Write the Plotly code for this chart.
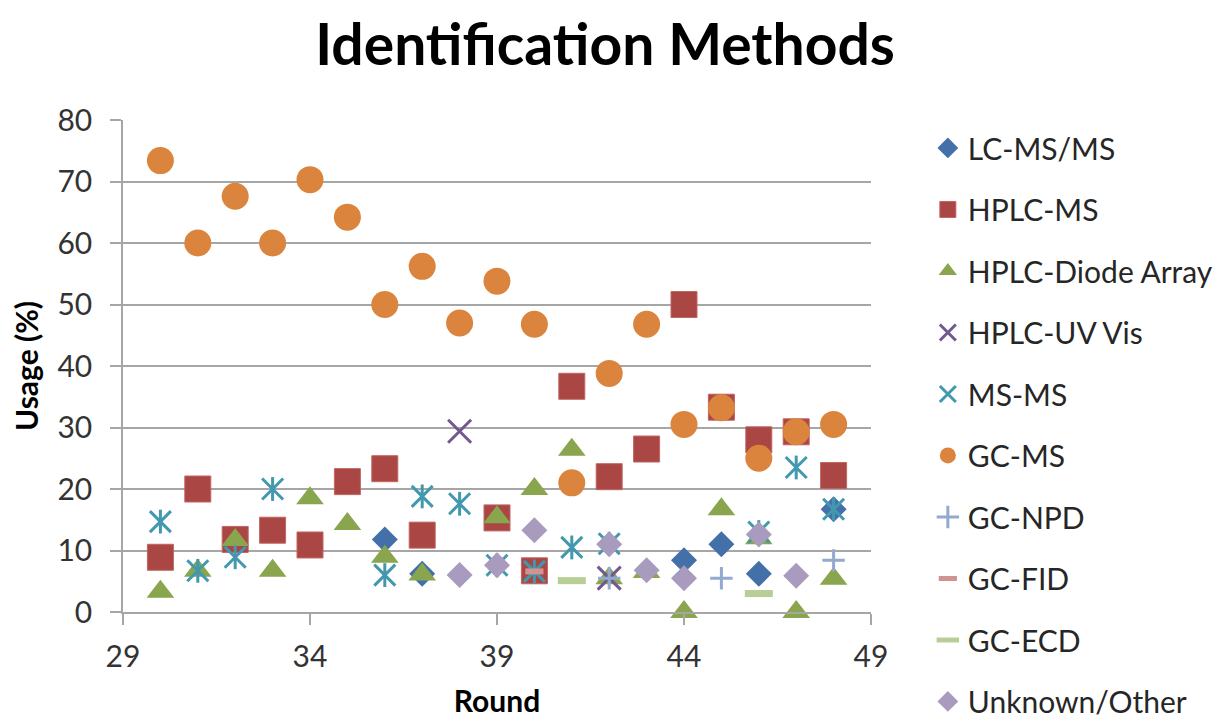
import plotly.graph_objects as go

# ---- data ----
lcmsms_x = [36, 37, 44, 45, 46, 48]
lcmsms_y = [11.8, 6.2, 8.4, 11.0, 6.2, 16.7]

hplcms_x = [30, 31, 32, 33, 34, 35, 36, 37, 39, 40, 41, 42, 43, 44, 45, 46, 47, 48]
hplcms_y = [8.9, 20.0, 11.8, 13.3, 10.9, 21.2, 23.3, 12.5, 15.3, 6.7, 36.7, 22.0, 26.5, 50.0, 33.3, 28.0, 29.3, 22.2]

hplcda_x = [30, 31, 32, 33, 34, 35, 36, 37, 39, 40, 41, 42, 43, 44, 45, 46, 47, 48]
hplcda_y = [3.3, 6.7, 11.7, 6.7, 18.5, 14.3, 9.0, 6.1, 15.4, 20.0, 26.4, 5.5, 6.5, 0.0, 16.7, 12.0, 0.0, 5.4]

hplcuv_x = [38, 42]
hplcuv_y = [29.4, 5.5]

msms_x = [30, 31, 32, 33, 36, 37, 38, 39, 40, 41, 42, 46, 47, 48]
msms_y = [14.7, 6.7, 8.9, 20.0, 6.0, 18.8, 17.6, 7.6, 6.6, 10.5, 11.1, 13.0, 23.5, 16.7]

gcms_x = [30, 31, 32, 33, 34, 35, 36, 37, 38, 39, 40, 41, 42, 43, 44, 45, 46, 47, 48]
gcms_y = [73.4, 60.0, 67.6, 60.0, 70.3, 64.2, 50.0, 56.2, 47.0, 53.8, 46.8, 21.0, 38.8, 46.8, 30.5, 33.2, 25.0, 29.3, 30.5]

gcnpd_x = [42, 45, 48]
gcnpd_y = [5.5, 5.5, 8.4]

gcfid_x = [40]
gcfid_y = [6.6]

gcecd_x = [41, 46]
gcecd_y = [5.1, 3.0]

unknown_x = [38, 39, 40, 42, 43, 44, 46, 47]
unknown_y = [6.0, 7.6, 13.3, 11.0, 6.8, 5.5, 12.6, 5.9]

FONT = "Lato"

fig = go.Figure()

def add(name, xs, ys, symbol, color, size, line_w=0, line_color=None, showlegend=True, group=None):
    fig.add_trace(go.Scatter(
        x=xs, y=ys, mode="markers", name=name,
        legendgroup=group or name, showlegend=showlegend,
        cliponaxis=False,
        marker=dict(symbol=symbol, color=color, size=size,
                    line=dict(width=line_w, color=line_color or color)),
    ))

add("LC-MS/MS", lcmsms_x, lcmsms_y, "diamond", "#4470AA", 20)
add("HPLC-MS", hplcms_x, hplcms_y, "square", "#AA4643", 26, 1, "#C06664")
add("HPLC-Diode Array", hplcda_x, hplcda_y, "triangle-up", "#89A54E", 24)
add("HPLC-UV Vis", hplcuv_x, hplcuv_y, "x-thin-open", "#71588F", 23, 3)
add("MS-MS", msms_x, msms_y, "x-thin-open", "#4198AF", 21, 3)
add("MS-MS", msms_x, msms_y, "line-ns-open", "#4198AF", 17, 3, showlegend=False, group="MS-MS")
add("GC-MS", gcms_x, gcms_y, "circle", "#DB843D", 27)
add("GC-NPD", gcnpd_x, gcnpd_y, "cross-thin-open", "#93A9CF", 16, 3)
add("GC-FID", gcfid_x, gcfid_y, "line-ew-open", "#D19392", 13, 6)
add("GC-ECD", gcecd_x, gcecd_y, "line-ew-open", "#B9CD96", 20, 7)
add("Unknown/Other", unknown_x, unknown_y, "diamond", "#A99BBD", 20)

grid = "#A6A6A6"
fig.update_layout(
    width=1215, height=718,
    margin=dict(l=123, r=344, t=120, b=106, autoexpand=False),
    paper_bgcolor="white", plot_bgcolor="white",
    font=dict(family=FONT, color="#333333"),
    title=dict(text="<b>Identification Methods</b>", font=dict(family=FONT, size=57, color="#000000"),
               x=0.498, xref="container", xanchor="center", y=1 - 45 / 718, yref="container", yanchor="middle"),
    showlegend=True,
    legend=dict(x=1.076, xanchor="left", y=0.996, yanchor="top", font=dict(family=FONT, size=30, color="#262626"),
                tracegroupgap=19.5, bgcolor="rgba(0,0,0,0)", itemsizing="trace", maxheight=710),
    xaxis=dict(range=[29, 49], tick0=29, dtick=5, showgrid=False, zeroline=False,
               showline=True, linecolor=grid, linewidth=1.5,
               ticks="outside", ticklen=11, tickcolor=grid, tickwidth=1.5,
               tickfont=dict(family=FONT, size=30, color="#333333"), ticklabelstandoff=6,
               title=dict(text="<b>Round</b>", font=dict(family=FONT, size=30, color="#000000"), standoff=42)),
    yaxis=dict(range=[0, 80], tick0=0, dtick=10, showgrid=True, gridcolor=grid, gridwidth=1.5, zeroline=False,
               showline=True, linecolor=grid, linewidth=1.5,
               ticks="outside", ticklen=11, tickcolor=grid, tickwidth=1.5,
               tickfont=dict(family=FONT, size=30, color="#333333"), ticklabelstandoff=12,
               title=dict(text="<b>Usage (%)</b>", font=dict(family=FONT, size=30, color="#000000"), standoff=10)),
)

fig.write_html("out.html")
